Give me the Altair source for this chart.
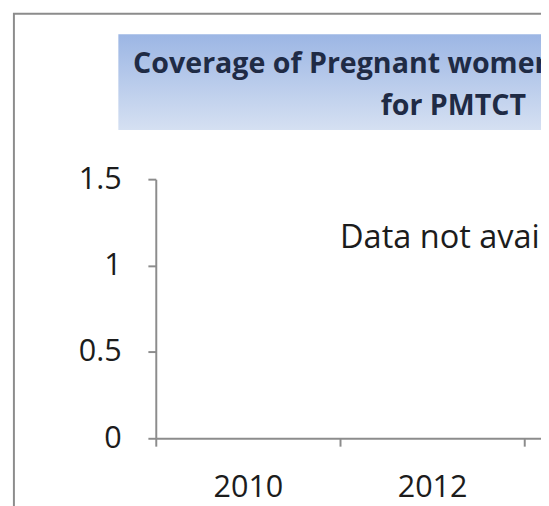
import altair as alt
import pandas as pd

# ---- data ----
years = ["2010", "2012", "2014"]
coverage = [None, None, None]          # no values available
y_ticks = [0, 0.5, 1, 1.5]
title_line1 = "Coverage of Pregnant women receiving ARV"
title_line2 = "for PMTCT"
note_text = ["Data not available"]
note_year = ["2012"]
note_value = [1.1]

df = pd.DataFrame({"year": years, "coverage": coverage})
note_df = pd.DataFrame({"year": note_year, "value": note_value, "label": note_text})
one = alt.Data(values=[{}])

GRAY = "#8c8c8c"
FONT = "Open Sans"
LABEL = "#1c1c1c"

x_scale = alt.Scale(domain=years, range=[0, 561], paddingInner=0, paddingOuter=0)
y_scale = alt.Scale(domain=[0, 1.5], nice=False)

x_axis = alt.Axis(title=None, labelAngle=0, tickBand="extent", tickSize=8,
                  domainColor=GRAY, tickColor=GRAY, domainWidth=2, tickWidth=2,
                  labelFont=FONT, labelFontSize=31, labelColor=LABEL,
                  labelPadding=27, grid=False)
y_axis = alt.Axis(title=None, values=y_ticks, format=".1~f", tickSize=8,
                  domainColor=GRAY, tickColor=GRAY, domainWidth=2, tickWidth=2,
                  labelFont=FONT, labelFontSize=31, labelColor=LABEL,
                  labelPadding=27, grid=False)

frame = alt.Chart(one).mark_rect(fillOpacity=0, stroke=GRAY, strokeWidth=2).encode(
    x=alt.value(-144), x2=alt.value(700), y=alt.value(-168), y2=alt.value(700))

box = alt.Chart(one).mark_rect(
    fill={"gradient": "linear", "x1": 0, "y1": 0, "x2": 0, "y2": 1,
          "stops": [{"offset": 0, "color": "#9cb6e4"},
                    {"offset": 1, "color": "#d5e0f2"}]}
).encode(x=alt.value(-38), x2=alt.value(700), y=alt.value(-147), y2=alt.value(-50))

t1 = alt.Chart(one).mark_text(text=title_line1, align="left", baseline="alphabetic",
                              font=FONT, fontSize=29, fontWeight="bold",
                              color="#1f2b45").encode(x=alt.value(-23), y=alt.value(-108))
t2 = alt.Chart(one).mark_text(text=title_line2, align="center", baseline="alphabetic",
                              font=FONT, fontSize=29, fontWeight="bold",
                              color="#1f2b45").encode(x=alt.value(302), y=alt.value(-65))

main = alt.Chart(df).mark_line(color="#4f81bd", point=True).encode(
    x=alt.X("year:N", scale=x_scale, axis=x_axis),
    y=alt.Y("coverage:Q", scale=y_scale, axis=y_axis),
)

note = alt.Chart(note_df).mark_text(align="left", baseline="alphabetic", font=FONT,
                                    fontSize=33, color=LABEL).encode(
    x=alt.X("year:N", bandPosition=0, scale=x_scale, axis=x_axis),
    y=alt.Y("value:Q", scale=y_scale, axis=y_axis),
    text="label:N",
)

chart = alt.layer(frame, box, t1, t2, main, note).properties(
    width=391, height=263,
    padding={"left": 150, "top": 170, "right": 0, "bottom": 65},
    autosize=alt.AutoSizeParams(type="none"),
    background="white",
).configure_view(stroke="transparent")

chart.save("out.html", embed_options={"renderer": "svg", "actions": False})
